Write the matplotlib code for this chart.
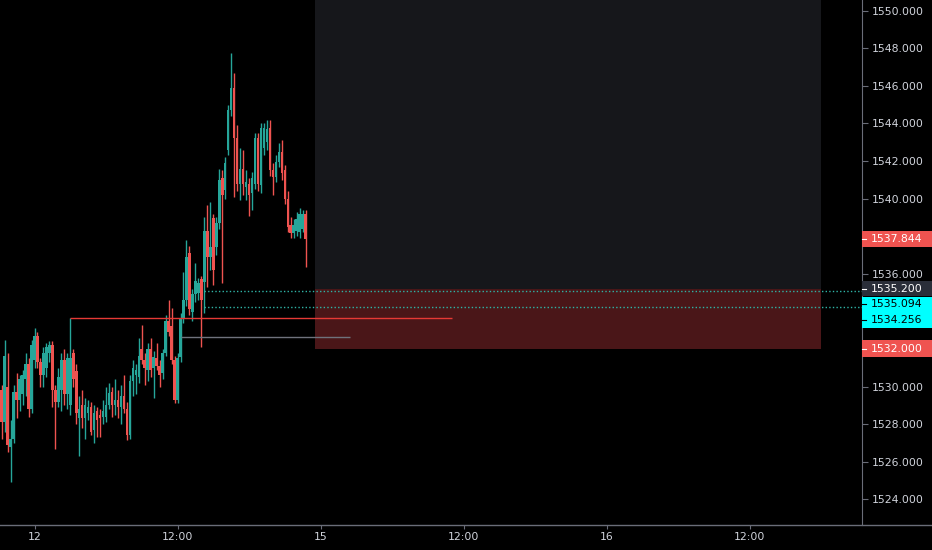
import numpy as np
import matplotlib
matplotlib.use('Agg')
import matplotlib.pyplot as plt
from matplotlib.patches import Rectangle
from matplotlib.lines import Line2D

plt.rcParams['font.family'] = ['DejaVu Sans']

# 15 minute bars, index 0 = day 12 00:00
bar_idx = list(range(-11, 92))
opens = [1529.8, 1528.1, 1530.0, 1526.8, 1527.2, 1529.7, 1529.3, 1529.6, 1530.4, 1531.2, 1528.8,
         1531.4, 1532.7, 1531.3, 1530.6, 1531.0, 1531.8, 1532.2, 1529.8, 1529.2, 1529.8,
         1531.4, 1529.6, 1529.0, 1531.8, 1530.8, 1528.3, 1529.0, 1528.3, 1528.6, 1528.9,
         1527.7, 1528.7, 1528.5, 1528.4, 1528.4, 1529.0, 1529.7, 1529.0, 1529.3, 1528.9,
         1529.5, 1528.8, 1527.4, 1530.3, 1530.6, 1530.5, 1532.0, 1531.4, 1530.9, 1532.0,
         1531.0, 1531.5, 1531.1, 1530.7, 1531.8, 1533.5, 1533.2, 1531.4, 1529.3, 1531.55,
         1533.6, 1534.6, 1537.1, 1533.96, 1534.9, 1535.0, 1535.7, 1535.55, 1538.3, 1536.9,
         1538.95, 1537.4, 1538.7, 1541.1, 1540.45, 1542.6, 1544.7, 1545.9, 1543.2, 1540.8,
         1541.6, 1540.6, 1540.8, 1540.3, 1540.8, 1543.2, 1540.7, 1542.7, 1543.0, 1543.75,
         1541.5, 1541.15, 1541.95, 1542.5, 1541.5, 1540.0, 1538.6, 1538.15, 1538.3, 1538.2,
         1538.4, 1539.2]
highs = [1530.1, 1532.5, 1531.8, 1528.2, 1530.1, 1530.7, 1530.6, 1530.9, 1531.8, 1531.5, 1532.5,
         1533.1, 1532.9, 1531.5, 1532.1, 1532.3, 1532.4, 1532.4, 1530.1, 1531.0, 1531.8,
         1532.0, 1531.8, 1533.63, 1532.0, 1531.2, 1529.5, 1529.8, 1529.4, 1529.3, 1529.2,
         1529.0, 1528.9, 1528.8, 1529.3, 1530.0, 1530.2, 1530.0, 1530.4, 1529.8, 1530.1,
         1530.6, 1529.2, 1530.6, 1531.4, 1531.2, 1532.6, 1533.3, 1531.8, 1532.3, 1532.6,
         1531.9, 1532.3, 1531.4, 1532.0, 1533.8, 1534.6, 1534.2, 1531.6, 1531.8, 1533.9,
         1536.1, 1537.8, 1537.5, 1535.2, 1536.6, 1535.8, 1535.9, 1539.0, 1539.65, 1539.8,
         1539.2, 1539.0, 1541.6, 1541.5, 1542.2, 1545.0, 1547.77, 1546.7, 1543.9, 1542.7,
         1542.6, 1541.5, 1541.1, 1541.4, 1543.5, 1543.5, 1544.0, 1544.0, 1544.2, 1544.2,
         1541.9, 1542.3, 1542.96, 1543.1, 1541.8, 1540.4, 1539.0, 1538.9, 1539.3, 1539.5,
         1539.4, 1539.4]
lows = [1527.2, 1527.6, 1526.5, 1524.9, 1527.0, 1528.3, 1528.7, 1529.0, 1529.5, 1528.4, 1528.6,
        1531.0, 1531.0, 1530.0, 1530.0, 1530.5, 1531.3, 1528.9, 1526.7, 1528.9, 1528.7,
        1529.0, 1528.8, 1528.5, 1530.0, 1528.0, 1526.3, 1527.8, 1527.2, 1528.2, 1527.4,
        1527.0, 1527.3, 1527.3, 1528.0, 1528.1, 1528.8, 1528.4, 1528.5, 1528.3, 1528.0,
        1528.6, 1527.15, 1527.2, 1529.5, 1529.6, 1530.2, 1531.2, 1530.1, 1530.3, 1530.5,
        1529.4, 1530.9, 1530.0, 1530.4, 1531.6, 1532.7, 1531.2, 1529.1, 1529.1, 1531.3,
        1533.4, 1534.3, 1533.8, 1533.5, 1534.5, 1534.6, 1532.1, 1533.9, 1535.3, 1536.2,
        1535.4, 1537.0, 1538.4, 1535.5, 1540.0, 1542.3, 1544.4, 1540.1, 1540.4, 1539.9,
        1540.2, 1539.9, 1539.1, 1539.4, 1540.5, 1540.4, 1540.3, 1542.3, 1542.6, 1541.2,
        1540.2, 1540.9, 1541.7, 1541.0, 1539.7, 1538.2, 1537.9, 1537.9, 1538.0, 1537.9,
        1538.2, 1536.35]
closes = [1528.1, 1531.6, 1526.9, 1527.2, 1529.7, 1529.3, 1530.4, 1530.6, 1531.2, 1528.8, 1532.2,
          1532.7, 1531.3, 1530.6, 1531.8, 1532.1, 1532.2, 1529.8, 1529.2, 1530.5, 1531.4,
          1529.6, 1531.5, 1531.5, 1530.4, 1528.6, 1528.8, 1528.3, 1529.0, 1528.9, 1527.6,
          1528.6, 1528.2, 1528.35, 1528.7, 1529.0, 1529.65, 1529.0, 1529.3, 1528.9, 1529.5,
          1528.8, 1527.4, 1530.3, 1531.0, 1530.9, 1531.65, 1531.4, 1531.0, 1532.0, 1530.9,
          1531.55, 1531.1, 1530.6, 1531.8, 1533.5, 1532.9, 1531.4, 1529.3, 1531.5, 1533.6,
          1534.6, 1536.9, 1534.1, 1534.9, 1535.6, 1535.5, 1534.6, 1538.3, 1536.9, 1537.4,
          1536.2, 1538.7, 1541.0, 1540.2, 1541.9, 1544.7, 1545.9, 1543.2, 1540.8, 1541.6,
          1540.8, 1540.9, 1540.2, 1541.1, 1543.2, 1540.8, 1543.75, 1543.75, 1543.7, 1541.5,
          1541.15, 1541.95, 1542.5, 1541.35, 1540.0, 1538.5, 1538.15, 1538.6, 1538.9, 1539.2,
          1539.2, 1537.844]

xtick_pos = [0, 48, 96, 144, 192, 240]
xtick_labels = ['12', '12:00', '15', '12:00', '16', '12:00']
ytick_vals = [1550, 1548, 1546, 1544, 1542, 1540, 1536, 1530, 1528, 1526, 1524]

zone_start, zone_end = 94, 264
zone_top, zone_bottom = 1535.2, 1532.0
red_line = (12, 140, 1533.63)
gray_line = (49, 106, 1532.65)
dotted_levels = [1535.094, 1534.256]
dotted_start = 57
last_price = 1537.844

UP = '#26a69a'
DOWN = '#ef5350'
TXT = '#d1d4dc'
AXC = '#6a6d78'

fig = plt.figure(figsize=(9.32, 5.5), dpi=100, facecolor='black')
ax = fig.add_axes([0, 25 / 550, 862 / 932, 525 / 550])
ax.set_facecolor('black')
ax.set_xlim(-11.58, 277.7)
ax.set_ylim(1522.63, 1550.57)

# zones
ax.add_patch(Rectangle((zone_start, zone_top), zone_end - zone_start, 30,
                       facecolor='#16171b', edgecolor='none', zorder=0))
ax.add_patch(Rectangle((zone_start, zone_bottom), zone_end - zone_start, zone_top - zone_bottom,
                       facecolor='#4a1618', edgecolor='none', zorder=0))

o = np.array(opens)
h = np.array(highs)
l = np.array(lows)
c = np.array(closes)
x = np.array(bar_idx)
cols = np.where(c >= o, UP, DOWN)
ax.vlines(x, l, h, colors=cols, linewidth=1.0, zorder=2)
body = np.where(np.abs(c - o) < 0.05, 0.05, c - o)
ax.bar(x, body, bottom=o, width=0.86, color=cols, linewidth=0, zorder=3)

# drawn levels
ax.hlines(red_line[2], red_line[0], red_line[1], colors='#e53935', linewidth=1, zorder=4)
ax.hlines(gray_line[2], gray_line[0], gray_line[1], colors='#6f727c', linewidth=1, zorder=4)
for lv in dotted_levels:
    ax.plot([dotted_start, 277.7], [lv, lv], color='#2fb4a6', linewidth=1.0,
            linestyle=(0, (1, 1.6)), zorder=4)

for s in ['left', 'top', 'bottom']:
    ax.spines[s].set_visible(False)
ax.spines['right'].set_color(AXC)
ax.yaxis.tick_right()
ax.set_yticks(ytick_vals)
ax.set_yticklabels(['%.3f' % v for v in ytick_vals])
ax.tick_params(axis='y', colors=AXC, labelcolor=TXT, labelsize=7.8, length=4, pad=3)
ax.set_xticks(xtick_pos)
ax.set_xticklabels(xtick_labels)
ax.tick_params(axis='x', colors=AXC, labelcolor=TXT, labelsize=7.8, length=3,
               direction='out', pad=2)
ax.xaxis.set_ticks_position('bottom')

fig.add_artist(Line2D([0, 1], [25 / 550, 25 / 550], color=AXC, linewidth=1))

# price labels on the axis
to_fig = ax.transData + fig.transFigure.inverted()
W, H = 932.0, 550.0


def axis_label(price, text, fc, tc, shift_px=0.0, height_px=16.0):
    yf = to_fig.transform((0, price))[1] - shift_px / H
    if height_px > 0:
        fig.add_artist(Rectangle((862 / W, yf - height_px / 2 / H), 70 / W, height_px / H,
                                 facecolor=fc, edgecolor='none', transform=fig.transFigure))
    fig.add_artist(Line2D([862 / W, 866 / W], [yf, yf], color=tc, linewidth=0.8,
                          transform=fig.transFigure))
    fig.text(871 / W, yf, text, color=tc, fontsize=7.8, va='center', ha='left')


axis_label(last_price, '%.3f' % last_price, '#ef5350', 'white')
axis_label(zone_top, '%.3f' % zone_top, '#2a2e39', 'white', height_px=15)
fig.add_artist(Rectangle((862 / W, (to_fig.transform((0, dotted_levels[1]))[1] - 21.5 / H)),
                         70 / W, 31 / H, facecolor='#00ffff', edgecolor='none',
                         transform=fig.transFigure))
axis_label(dotted_levels[0], '%.3f' % dotted_levels[0], '#00ffff', 'black', shift_px=13, height_px=0)
axis_label(dotted_levels[1], '%.3f' % dotted_levels[1], '#00ffff', 'black', shift_px=13.5, height_px=0)
axis_label(zone_bottom, '%.3f' % zone_bottom, '#ef5350', 'white', height_px=17)

fig.savefig('out.png', dpi=100, facecolor='black')
